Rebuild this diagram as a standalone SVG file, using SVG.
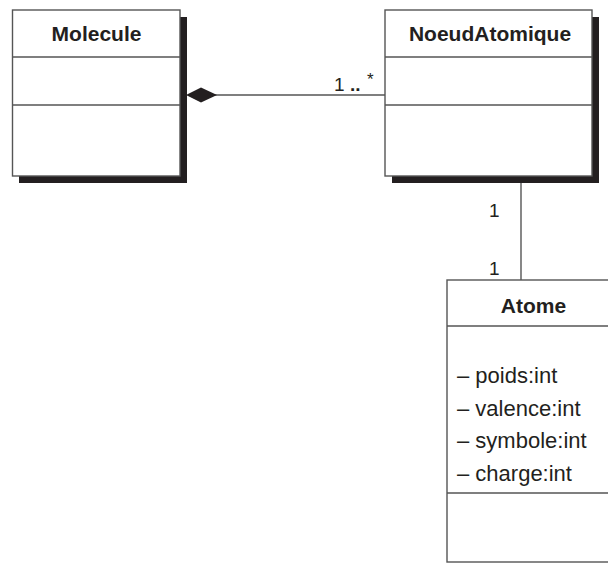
<svg xmlns="http://www.w3.org/2000/svg" width="608" height="564" viewBox="0 0 608 564">
<style>
.shadow{fill:#231f20;}
.box{fill:#fff;stroke:#555;stroke-width:1.4;}
.div{stroke:#555;stroke-width:1.4;}
.title{font-family:"Liberation Sans",Arial,sans-serif;font-weight:bold;font-size:21px;fill:#231f20;text-anchor:middle;}
.attr{font-family:"Liberation Sans",Arial,sans-serif;font-size:22px;fill:#231f20;}
.lbl{font-family:"Liberation Sans",Arial,sans-serif;font-size:19px;fill:#231f20;}
.conn{stroke:#555;stroke-width:1.4;fill:none;}
</style>
<rect width="608" height="564" fill="#fff"/>
<g id="connectors">
<line class="conn" x1="200" y1="95" x2="385" y2="95"/>
<polygon points="186,95 201,87.5 217,95 201,102.5" fill="#231f20"/>
<line class="conn" x1="521" y1="183" x2="521" y2="280"/>
<text class="lbl" x="334" y="91">1</text>
<text class="lbl" x="350" y="91" style="font-weight:bold">..</text>
<text class="lbl" x="367" y="85" style="font-size:17px">*</text>
<text class="lbl" x="489" y="217">1</text>
<text class="lbl" x="489" y="275">1</text>
</g>
<g id="Molecule">
<rect class="shadow" x="19" y="17" width="168" height="166"/>
<rect class="box" x="12.5" y="10" width="167.5" height="166"/>
<line class="div" x1="12.5" y1="57" x2="180" y2="57"/>
<line class="div" x1="12.5" y1="105" x2="180" y2="105"/>
<text class="title" x="96.5" y="41">Molecule</text>
</g>
<g id="NoeudAtomique">
<rect class="shadow" x="392" y="17" width="207" height="166"/>
<rect class="box" x="385" y="10" width="207" height="166"/>
<line class="div" x1="385" y1="57" x2="592" y2="57"/>
<line class="div" x1="385" y1="105" x2="592" y2="105"/>
<text class="title" x="490" y="41">NoeudAtomique</text>
</g>
<g id="Atome">
<rect class="box" x="447" y="280" width="172" height="282"/>
<line class="div" x1="447" y1="326" x2="619" y2="326"/>
<line class="div" x1="447" y1="493" x2="619" y2="493"/>
<text class="title" x="533.5" y="313">Atome</text>
<text class="attr" x="457" y="383">– poids:int</text>
<text class="attr" x="457" y="415.5">– valence:int</text>
<text class="attr" x="457" y="448">– symbole:int</text>
<text class="attr" x="457" y="480.5">– charge:int</text>
</g>
</svg>
